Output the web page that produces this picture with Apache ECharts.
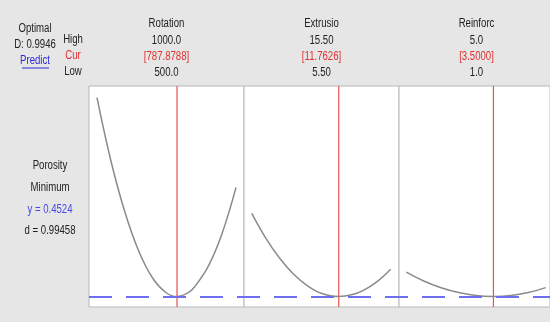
<!DOCTYPE html>
<html><head><meta charset="utf-8">
<script src="https://cdn.jsdelivr.net/npm/echarts@6/dist/echarts.min.js"></script>
<style>html,body{margin:0;padding:0;background:#e6e6e6;}#c{width:550px;height:322px;}</style>
</head><body><div id="c"></div>
<script>
// ---- data ----
const factorNames = ['Rotation', 'Extrusio', 'Reinforc'];
const highLabels = ['1000.0', '15.50', '5.0'];
const curLabels = ['[787.8788]', '[11.7626]', '[3.5000]'];
const lowLabels = ['500.0', '5.50', '1.0'];
const curValues = [787.8788, 11.7626, 3.5];
const lowValues = [500, 5.5, 1];
const highValues = [1000, 15.5, 5];

const rotationX = [500, 550, 600, 650, 700, 750, 787.8788, 825, 850, 900, 950, 1000];
const rotationPorosity = [1.447, 1.131, 0.876, 0.680, 0.545, 0.470, 0.4524, 0.469, 0.499, 0.603, 0.768, 0.998];
const extrusionX = [5.5, 6.5, 7.5, 8.5, 9.5, 10.5, 11.7626, 12.75, 13.5, 14.5, 15.5];
const extrusionPorosity = [0.868, 0.746, 0.645, 0.565, 0.507, 0.469, 0.4524, 0.462, 0.482, 0.526, 0.589];
const reinforcX = [1.0, 1.5, 2.0, 2.5, 3.0, 3.5, 4.0, 4.5, 5.0];
const reinforcPorosity = [0.574, 0.530, 0.496, 0.472, 0.457, 0.4524, 0.457, 0.472, 0.497];

const optimalD = 'D: 0.9946';
const responseName = 'Porosity';
const goalText = 'Minimum';
const yOptimal = 0.4524;
const dText = 'd = 0.99458';

// ---- layout ----
const FONT = '"Liberation Sans", Arial, sans-serif';
const gridTop = 86, gridH = 221;
const gridLefts = [89, 244, 399];
const gridWidths = [155, 155, 151];
const padStart = [8, 7.7, 7.3];   // px between panel edge and low setting
const padEnd = [8, 8.3, 4.3];     // px between high setting and panel edge
const yMin = 0.40, yMax = 1.505;
const xs = [rotationX, extrusionX, reinforcX];
const ys = [rotationPorosity, extrusionPorosity, reinforcPorosity];
const RED = '#ea5050';
const GRAY = '#8a8a8a';

const grids = [], xAxes = [], yAxes = [], series = [];
for (let i = 0; i < 3; i++) {
  grids.push({left: gridLefts[i], top: gridTop, width: gridWidths[i], height: gridH, show: true,
    backgroundColor: '#ffffff', borderColor: '#b8b8b8', borderWidth: 1});
  const span = highValues[i] - lowValues[i];
  const inner = gridWidths[i] - padStart[i] - padEnd[i];
  const perPx = span / inner;
  xAxes.push({type: 'value', gridIndex: i, min: lowValues[i] - padStart[i] * perPx,
    max: highValues[i] + padEnd[i] * perPx, show: false});
  yAxes.push({type: 'value', gridIndex: i, min: yMin, max: yMax, show: false});
}
for (let i = 0; i < 3; i++) {
  series.push({type: 'line', name: 'curve' + i, xAxisIndex: i, yAxisIndex: i, smooth: 0.4, showSymbol: false,
    color: GRAY, data: xs[i].map((x, k) => [x, ys[i][k]]),
    lineStyle: {color: GRAY, width: 1.5}, itemStyle: {color: GRAY}, silent: true, z: 3,
    emphasis: {disabled: true}
  });
}
for (let i = 0; i < 3; i++) {
  // current-setting vertical line (spans whole y range)
  series.push({type: 'line', name: 'cur' + i, xAxisIndex: i, yAxisIndex: i, showSymbol: false, silent: true, z: 2,
    color: RED, data: [[curValues[i], yMin], [curValues[i], yMax]],
    lineStyle: {color: RED, width: 1.2}, itemStyle: {color: RED}, emphasis: {disabled: true}});
}
// overlay grid for the optimal-y dashed line across all panels
grids.push({left: 89, top: gridTop, width: 461, height: gridH, show: false});
xAxes.push({type: 'value', gridIndex: 3, min: 0, max: 1, show: false});
yAxes.push({type: 'value', gridIndex: 3, min: yMin, max: yMax, show: false});
series.push({type: 'line', xAxisIndex: 3, yAxisIndex: 3, data: [], silent: true, z: 4,
  markLine: {silent: true, symbol: 'none', label: {show: false},
    lineStyle: {color: '#6e6ef0', width: 2, type: [23, 14]},
    data: [{yAxis: yOptimal}]}});

const txt = (x, y, s, color) => ({type: 'text', x: x, y: y, scaleX: 0.8, silent: true,
  style: {text: s, fill: color || '#222', font: '12px ' + FONT, textAlign: 'center', textVerticalAlign: 'middle'}});

const graphics = [
  txt(35, 29, 'Optimal'), txt(35, 45, optimalD), txt(35, 61, 'Predict', '#2a2ad8'),
  {type: 'line', silent: true, shape: {x1: 22, y1: 68, x2: 49, y2: 68}, style: {stroke: '#2a2ad8', lineWidth: 1}},
  txt(73, 40, 'High'), txt(73, 56, 'Cur', '#e03030'), txt(73, 72, 'Low'),
  txt(50, 166, responseName), txt(50, 188, goalText),
  txt(50, 210, 'y = ' + yOptimal.toFixed(4), '#4848e8'), txt(50, 231, dText)
];
const titleCenters = [166.5, 321.5, 476.5];
for (let i = 0; i < 3; i++) {
  const cx = titleCenters[i];
  graphics.push(txt(cx, 24, factorNames[i]));
  graphics.push(txt(cx, 41, highLabels[i]));
  graphics.push(txt(cx, 57, curLabels[i], '#e03030'));
  graphics.push(txt(cx, 73, lowLabels[i]));
}

const chart = echarts.init(document.getElementById('c'), null, {renderer: 'canvas'});
chart.setOption({
  backgroundColor: '#e6e6e6', animation: false,
  grid: grids, xAxis: xAxes, yAxis: yAxes, series: series, graphic: graphics
});
</script></body></html>
